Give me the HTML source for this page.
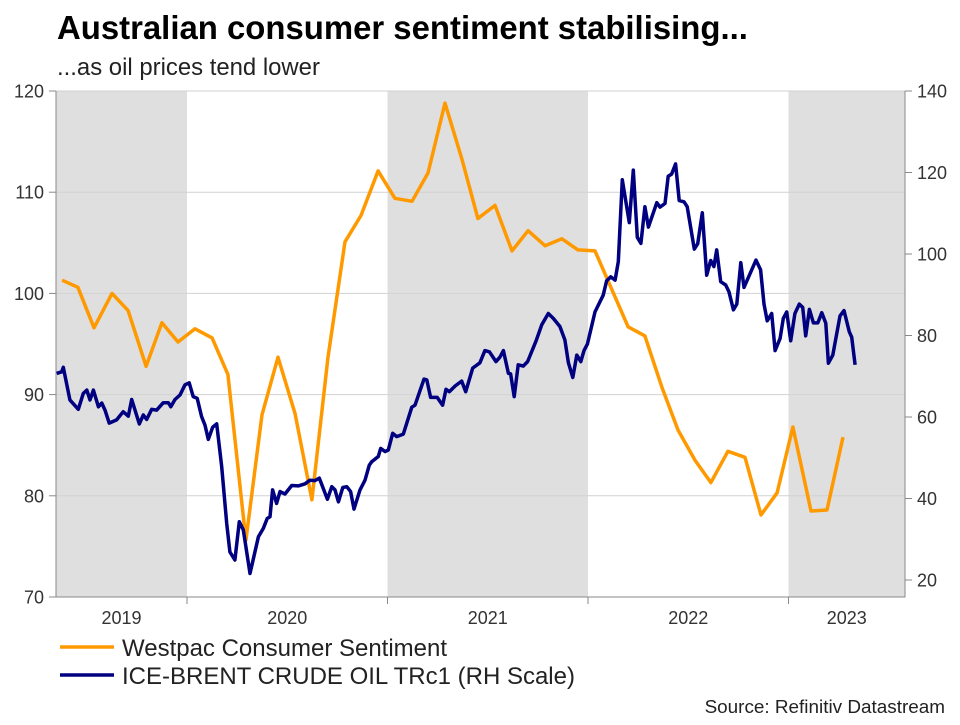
<!DOCTYPE html>
<html><head><meta charset="utf-8"><style>
body{margin:0;background:#fff;}
svg text{font-family:"Liberation Sans",Arial,sans-serif;}
</style></head><body>
<svg id="chart" width="960" height="720" viewBox="0 0 960 720">
<text x="57" y="39" font-size="32.9" font-weight="bold" fill="#000">Australian consumer sentiment stabilising...</text>
<text x="57" y="75" font-size="23.9" fill="#222">...as oil prices tend lower</text>
<g id="bands"></g>
<g id="grid"></g>
<g id="axes"></g>
<g id="series"></g>
<g>
<line x1="60" y1="647" x2="114" y2="647" stroke="#ff9900" stroke-width="3.5"/>
<text x="122" y="656" font-size="24" fill="#222">Westpac Consumer Sentiment</text>
<line x1="60" y1="675" x2="114" y2="675" stroke="#000080" stroke-width="3.5"/>
<text x="122" y="684" font-size="24" fill="#222">ICE-BRENT CRUDE OIL TRc1 (RH Scale)</text>
</g>
<text x="945" y="713" font-size="18.9" fill="#222" text-anchor="end">Source: Refinitiv Datastream</text>
</svg>
<script>
const leftTicks=[70,80,90,100,110,120];
const rightTicks=[20,40,60,80,100,120,140];
const yearLabels=[2019,2020,2021,2022,2023];
const shadedYears=[2019,2021,2023];
const westpacDates=[2019.377,2019.456,2019.536,2019.626,2019.706,2019.796,2019.875,2019.955,2020.04,2020.125,2020.204,2020.294,2020.374,2020.454,2020.539,2020.623,2020.703,2020.788,2020.868,2020.953,2021.037,2021.122,2021.202,2021.287,2021.372,2021.451,2021.536,2021.621,2021.701,2021.786,2021.870,2021.950,2022.035,2022.200,2022.284,2022.369,2022.449,2022.534,2022.613,2022.698,2022.783,2022.863,2022.943,2023.022,2023.112,2023.192,2023.272];
const westpacValues=[101.3,100.6,96.6,100.0,98.3,92.8,97.1,95.2,96.5,95.6,92.0,75.6,88.0,93.7,88.1,79.6,93.7,105.1,107.7,112.1,109.4,109.1,111.9,118.8,113.2,107.4,108.7,104.2,106.2,104.7,105.4,104.3,104.2,96.7,95.8,90.7,86.5,83.5,81.3,84.4,83.8,78.1,80.3,86.8,78.5,78.6,85.8];
const brentDates=[2019.35,2019.375,2019.383,2019.416,2019.458,2019.483,2019.50,2019.516,2019.533,2019.558,2019.575,2019.591,2019.612,2019.649,2019.682,2019.707,2019.724,2019.762,2019.782,2019.799,2019.824,2019.849,2019.882,2019.907,2019.919,2019.940,2019.965,2019.990,2020.011,2020.031,2020.051,2020.073,2020.090,2020.106,2020.128,2020.148,2020.173,2020.198,2020.214,2020.239,2020.261,2020.281,2020.314,2020.356,2020.381,2020.40,2020.414,2020.427,2020.447,2020.464,2020.489,2020.522,2020.555,2020.589,2020.613,2020.638,2020.66,2020.70,2020.722,2020.738,2020.755,2020.777,2020.797,2020.816,2020.833,2020.863,2020.888,2020.909,2020.921,2020.954,2020.966,2020.988,2021.004,2021.026,2021.046,2021.079,2021.121,2021.137,2021.182,2021.196,2021.215,2021.248,2021.275,2021.292,2021.308,2021.337,2021.37,2021.39,2021.425,2021.461,2021.486,2021.508,2021.541,2021.561,2021.578,2021.603,2021.614,2021.632,2021.652,2021.677,2021.699,2021.741,2021.769,2021.802,2021.827,2021.86,2021.885,2021.902,2021.924,2021.944,2021.964,2021.98,2021.997,2022.035,2022.076,2022.093,2022.113,2022.135,2022.151,2022.171,2022.206,2022.226,2022.246,2022.264,2022.284,2022.301,2022.343,2022.359,2022.384,2022.40,2022.417,2022.437,2022.455,2022.479,2022.495,2022.53,2022.547,2022.57,2022.592,2022.612,2022.628,2022.642,2022.662,2022.687,2022.703,2022.725,2022.742,2022.762,2022.778,2022.838,2022.861,2022.878,2022.894,2022.916,2022.933,2022.958,2022.974,2022.991,2023.011,2023.032,2023.054,2023.071,2023.086,2023.104,2023.124,2023.146,2023.166,2023.186,2023.199,2023.221,2023.257,2023.277,2023.303,2023.315,2023.332];
const brentValues=[70.7,71.1,72.2,64.2,61.9,65.8,66.6,64.2,66.6,62.5,63.4,61.7,58.5,59.3,61.3,60.2,64.3,58.3,60.5,59.4,61.9,61.7,63.5,63.5,62.5,64.3,65.4,67.9,68.4,65.0,64.6,60.1,58.0,54.5,57.5,58.3,47.8,33.9,26.9,24.9,34.3,32.3,21.6,30.6,32.7,35.1,35.5,42.1,38.8,41.7,41.1,43.2,43.1,43.6,44.5,44.4,45.0,39.8,42.9,42.1,39.2,42.7,42.9,41.7,37.4,42.1,44.5,48.2,49.0,50.3,52.3,51.5,51.9,56.0,55.2,55.8,62.4,62.9,69.3,69.1,64.8,64.8,62.9,66.8,66.2,67.6,68.8,66.2,72.0,73.3,76.3,76.0,73.6,74.7,76.3,70.7,70.6,65.0,72.8,72.5,73.6,78.7,82.6,85.4,84.2,82.2,78.9,73.3,69.7,75.2,73.6,76.3,77.9,85.8,89.9,93.4,94.4,93.6,98.1,118.2,107.7,120.6,104.1,102.6,111.6,106.6,112.6,111.5,112.4,119.1,119.6,122.1,113.1,112.8,111.6,101.2,102.5,110.1,94.8,98.4,96.9,101.0,93.2,92.4,90.7,86.3,87.7,97.9,91.8,98.5,96.1,87.7,83.6,85.4,76.3,79.3,84.2,85.8,78.7,85.4,87.7,86.9,79.9,86.4,83.1,83.1,85.6,83.0,73.2,75.2,84.8,86.1,80.9,79.6,72.8];

const NS='http://www.w3.org/2000/svg';
const X0=56,X1=905,Y0=91,Y1=597;
const xs=t=>187+(t-2020)*200.5;
const yL=v=>Y0+(120-v)*(Y1-Y0)/50;
const yR=v=>91+(140-v)*4.075;
function mk(tag,attrs,parent){const e=document.createElementNS(NS,tag);for(const k in attrs)e.setAttribute(k,attrs[k]);parent.appendChild(e);return e;}
const bands=document.getElementById('bands'),grid=document.getElementById('grid'),axes=document.getElementById('axes'),series=document.getElementById('series');
shadedYears.forEach(y=>{
  const a=Math.max(X0,xs(y)),b=Math.min(X1,xs(y+1));
  const r=mk('rect',{x:a,y:Y0,width:b-a,height:Y1-Y0,fill:'#dfdfdf'},bands);
  
  
});
leftTicks.forEach(v=>{
  const y=yL(v);
  if(v>70){const l=mk('line',{x1:X0,x2:X1,y1:y,y2:y,stroke:'#d2d2d2','stroke-width':1},grid);
  
  }
  const tk=mk('line',{x1:X0-7,x2:X0,y1:y,y2:y,stroke:'#888'},axes);
  
  
  const t=mk('text',{x:X0-12,y:y+6.5,'font-size':18,fill:'#333','text-anchor':'end'},axes);t.textContent=v;
  
  
});
rightTicks.forEach(v=>{
  const y=yR(v);
  const tk=mk('line',{x1:X1,x2:X1+7,y1:y,y2:y,stroke:'#888'},axes);
  
  
  const t=mk('text',{x:X1+12,y:y+6.5,'font-size':18,fill:'#333'},axes);t.textContent=v;
  
  
});
const fr=mk('path',{d:`M${X0},${Y0}V${Y1}H${X1}V${Y0}`,fill:'none',stroke:'#888','stroke-width':1},axes);


yearLabels.forEach(y=>{
  if(y>2019){const tk=mk('line',{x1:xs(y),x2:xs(y),y1:Y1,y2:Y1+7,stroke:'#888'},axes);
  
  }
  const a=Math.max(X0,xs(y)),b=Math.min(X1,xs(y+1));
  const t=mk('text',{x:(a+b)/2,y:624,'font-size':18,fill:'#333','text-anchor':'middle'},axes);t.textContent=y;
  
  
});
function line(dates,vals,ys,color,name){
  const d=dates.map((t,i)=>(i?'L':'M')+xs(t).toFixed(1)+','+ys(vals[i]).toFixed(1)).join('');
  const p=mk('path',{d:d,fill:'none',stroke:color,'stroke-width':3.5,'stroke-linejoin':'round'},series);
  
  
}
line(westpacDates,westpacValues,yL,'#ff9900','westpac-line');
line(brentDates,brentValues,yR,'#000080','brent-line');
</script>
</body></html>
